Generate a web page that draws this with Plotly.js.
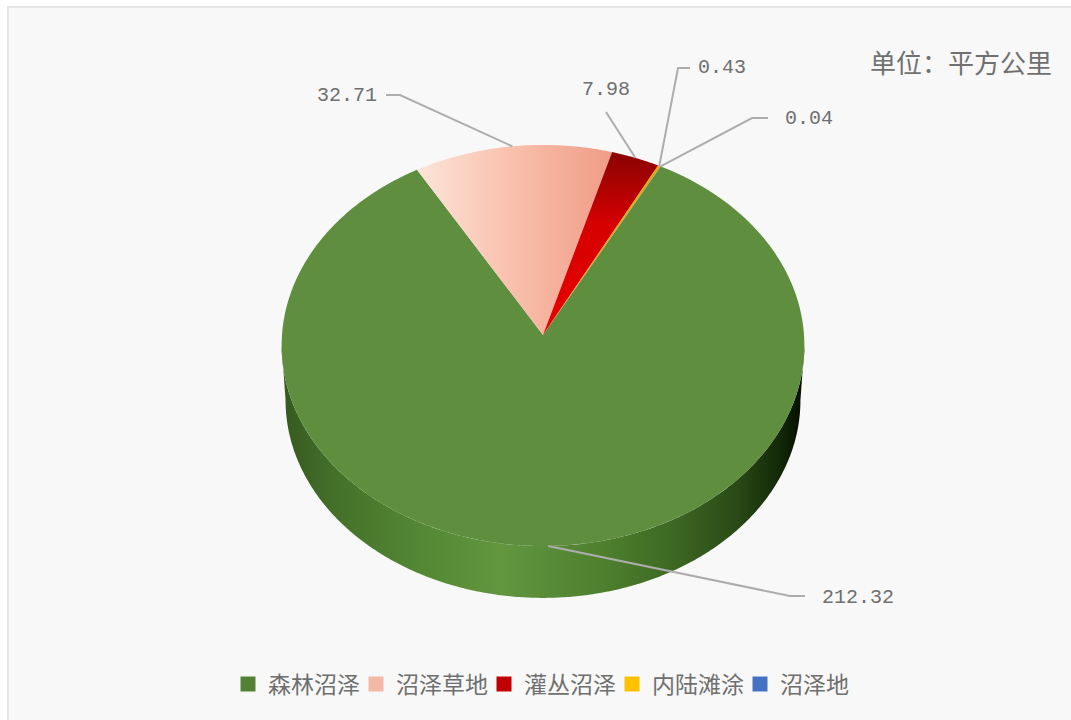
<!DOCTYPE html>
<html>
<head>
<meta charset="utf-8">
<script src="https://cdn.plot.ly/plotly-3.0.1.min.js"></script>
<style>html,body{margin:0;padding:0;background:#fff;}#chart{width:1071px;height:720px;}</style>
</head>
<body>
<div id="chart"></div>
<script>
// Wetland area by type, square kilometres
const categories = ['森林沼泽', '沼泽草地', '灌丛沼泽', '内陆滩涂', '沼泽地'];
const areas = [212.32, 32.71, 7.98, 0.43, 0.04];
const valueLabels = ['212.32', '32.71', '7.98', '0.43', '0.04'];
const unitLabel = '单位：平方公里';
const legendColors = ['#548235', '#f4b9a5', '#c00000', '#ffc000', '#4472c4'];

// Disk geometry in the 1071x720 drawing space
const startAngle = 28.15, centerX = 543, centerY = 335;
const radiusX = 261, radiusY = 200, tilt = 0.0524;
const wallDrop = 55, wallScale = 0.985;

// Perspective projection of a disk point at a clockwise angle from 12 o'clock
function project(deg, scale = 1, drop = 0) {
  const t = deg * Math.PI / 180;
  const u = Math.sin(t), v = Math.cos(t), w = 1 + tilt * v;
  return [centerX + scale * radiusX * u / w, centerY + drop - scale * radiusY * v / w];
}

function arc(from, to, scale, drop) {
  const n = Math.max(2, Math.ceil(Math.abs(to - from) * 2));
  const pts = [];
  for (let i = 0; i <= n; i++) pts.push(project(from + (to - from) * i / n, scale, drop));
  return pts;
}

const total = areas.reduce((a, b) => a + b, 0);
let cursor = startAngle;
const slices = areas.map(v => {
  const from = cursor;
  cursor += v / total * 360;
  return { from, to: cursor, mid: (from + cursor) / 2 };
});

const faceFill = [
  { fillcolor: '#5e8e3e' },
  { fillgradient: { type: 'horizontal', colorscale: [[0, '#fde4d9'], [0.5, '#f9bfab'], [1, '#ef9c86']] } },
  { fillgradient: { type: 'vertical', colorscale: [[0, '#e80000'], [0.6, '#d60000'], [1, '#8a0303']] } },
  { fillcolor: '#e8a800' },
  { fillcolor: '#4472c4' }
];

const traces = [];

// Side wall under the front of the disk
const wallTop = arc(93, 267, 1, 0);
const wallBottom = arc(267, 93, wallScale, wallDrop);
const wall = wallTop.concat(wallBottom);
traces.push({
  x: wall.map(p => p[0]), y: wall.map(p => p[1]),
  type: 'scatter', mode: 'none', fill: 'toself', showlegend: false, hoverinfo: 'skip',
  fillgradient: {
    type: 'horizontal',
    colorscale: [[0, '#35591e'], [0.1, '#44702a'], [0.25, '#528632'], [0.42, '#62963f'],
                 [0.62, '#4d7f2d'], [0.75, '#3d6823'], [0.87, '#2a4a17'], [0.95, '#132a08'], [1, '#050d02']]
  }
});

// Top face of each slice
slices.forEach((s, i) => {
  const outline = [[centerX, centerY]].concat(arc(s.from, s.to, 1, 0), [[centerX, centerY]]);
  traces.push(Object.assign({
    x: outline.map(p => p[0]), y: outline.map(p => p[1]), name: categories[i],
    type: 'scatter', mode: 'none', fill: 'toself', showlegend: false, hoverinfo: 'name'
  }, faceFill[i]));
});

// Leader lines and labels: elbow and label placement per slice
const elbowA = [[790, 596], [400, 95], [606, 112], [678, 68], [752, 118]];
const elbowB = [[805, 596], [386, 95], [606, 112], [690, 68], [768, 118]];
const labelAt = [[858, 597], [347, 95], [606, 89], [722, 67], [809, 118]];
slices.forEach((s, i) => {
  const anchor = project(s.mid, 1, 0);
  traces.push({
    x: [anchor[0], elbowA[i][0], elbowB[i][0]], y: [anchor[1], elbowA[i][1], elbowB[i][1]],
    type: 'scatter', mode: 'lines', line: { color: '#adadad', width: 2 },
    showlegend: false, hoverinfo: 'skip'
  });
});

// Legend keys
categories.forEach((c, i) => {
  traces.push({
    x: [null], y: [null], name: c, type: 'scatter', mode: 'markers',
    marker: { symbol: 'square', size: 15, color: legendColors[i] }
  });
});

const valueFont = { family: '"Liberation Mono", monospace', size: 20, color: '#6f6f6f' };
const annotations = valueLabels.map((t, i) => ({
  x: labelAt[i][0], y: labelAt[i][1], xref: 'x', yref: 'y', text: t, showarrow: false, font: valueFont
}));
annotations.push({
  x: 1054, y: 61, xref: 'x', yref: 'y', xanchor: 'right', text: unitLabel, showarrow: false,
  font: { family: '"Noto Sans CJK SC", sans-serif', size: 26, color: '#707070' }
});

const layout = {
  width: 1071, height: 720,
  margin: { l: 0, r: 0, t: 0, b: 0 },
  paper_bgcolor: '#ffffff', plot_bgcolor: 'rgba(0,0,0,0)',
  xaxis: { range: [0, 1071], visible: false, fixedrange: true },
  yaxis: { range: [720, 0], visible: false, fixedrange: true },
  shapes: [{
    type: 'rect', xref: 'x', yref: 'y', x0: 8, y0: 7, x1: 1075, y1: 725, layer: 'below',
    fillcolor: '#f8f8f8', line: { color: '#e6e6e6', width: 2 }
  }],
  annotations,
  showlegend: true,
  legend: {
    orientation: 'h', x: 228 / 1071, xanchor: 'left', y: 1 - 684 / 720, yanchor: 'middle',
    bgcolor: 'rgba(0,0,0,0)', itemwidth: 30, entrywidth: 83, entrywidthmode: 'pixels',
    font: { family: '"Noto Sans CJK SC", sans-serif', size: 23, color: '#6f6f6f' },
    itemclick: false, itemdoubleclick: false
  }
};

Plotly.newPlot('chart', traces, layout, { displayModeBar: false, staticPlot: true });
</script>
</body>
</html>
